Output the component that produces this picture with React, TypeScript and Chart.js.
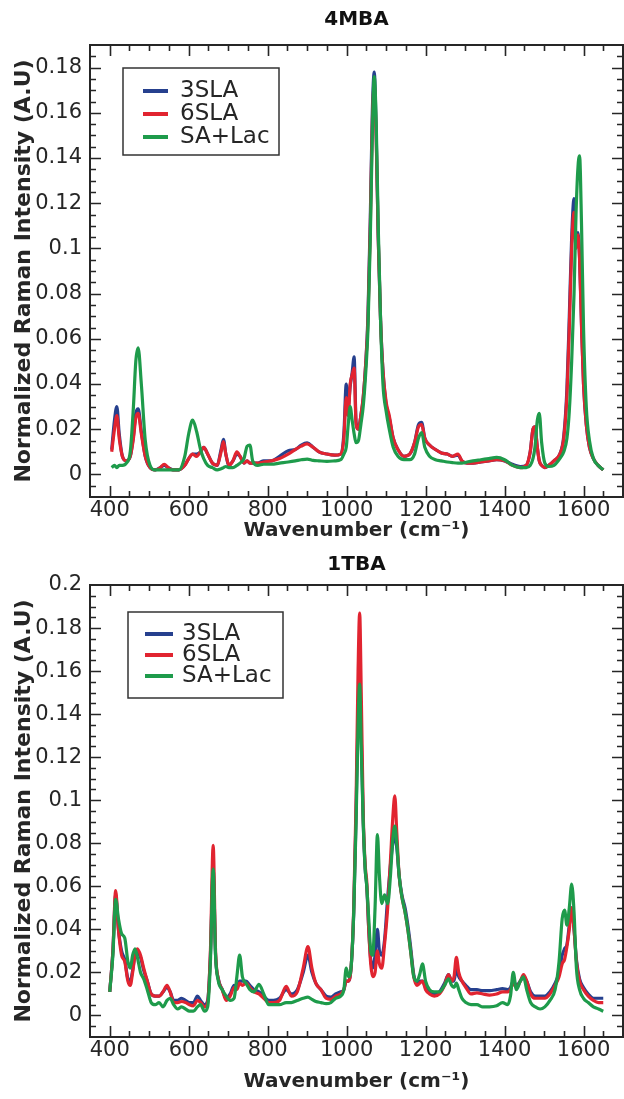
import React, { useEffect, useRef } from "react";
import { Chart, registerables } from "chart.js";

Chart.register(...registerables);

const FONT = "'DejaVu Sans', 'Liberation Sans', sans-serif";
const TEXT_COLOR = "#262626";
const SERIES_LABELS = ["3SLA", "6SLA", "SA+Lac"];
const SERIES_COLORS = ["#26408e", "#e12430", "#1e9b4b"];

const X_TICKS = [400, 600, 800, 1000, 1200, 1400, 1600];
const Y_TICKS_4MBA = [0, 0.02, 0.04, 0.06, 0.08, 0.1, 0.12, 0.14, 0.16, 0.18];
const Y_TICKS_1TBA = [0, 0.02, 0.04, 0.06, 0.08, 0.1, 0.12, 0.14, 0.16, 0.18, 0.2];

// ---------- 4MBA ----------
const WN_4MBA = [
  405, 412, 418, 424, 432, 442, 452, 460, 466, 472,
  480, 490, 502, 515, 528, 538, 548, 560, 575, 590,
  600, 610, 620, 630, 638, 648, 660, 672, 682, 688,
  694, 702, 712, 722, 730, 740, 748, 755, 762, 775,
  790, 810, 830, 852, 870, 885, 900, 915, 930, 950,
  970, 985, 993, 999, 1004, 1009, 1014, 1019, 1024, 1030,
  1036, 1042, 1048, 1054, 1060, 1065, 1070, 1075, 1080, 1086,
  1092, 1100, 1108, 1118, 1130, 1145, 1160, 1172, 1182, 1190,
  1198, 1210, 1225, 1240, 1255, 1268, 1282, 1292, 1305, 1320,
  1340, 1360, 1380, 1400, 1420, 1440, 1455, 1465, 1472, 1477,
  1483, 1488, 1494, 1502, 1512, 1525, 1540, 1550, 1558, 1564,
  1570, 1576, 1581, 1586, 1590, 1595, 1600, 1607, 1615, 1625,
  1637, 1650,
];
const SLA3_4MBA = [
  0.011, 0.024, 0.030, 0.018, 0.008, 0.006, 0.008, 0.017, 0.027, 0.029,
  0.019, 0.008, 0.003, 0.002, 0.003, 0.004, 0.003, 0.002, 0.002, 0.004,
  0.007, 0.009, 0.009, 0.010, 0.012, 0.009, 0.005, 0.004, 0.011, 0.0155,
  0.009, 0.004, 0.006, 0.009, 0.008, 0.005, 0.006, 0.005, 0.005, 0.005,
  0.006, 0.006, 0.008, 0.0105, 0.011, 0.013, 0.014, 0.012, 0.010, 0.009,
  0.0085, 0.009, 0.018, 0.040, 0.030, 0.039, 0.045, 0.052, 0.023, 0.020,
  0.026, 0.034, 0.048, 0.070, 0.114, 0.160, 0.178, 0.150, 0.105, 0.068,
  0.046, 0.031, 0.025, 0.016, 0.011, 0.008, 0.009, 0.014, 0.022, 0.023,
  0.016, 0.013, 0.011, 0.0095, 0.009, 0.008, 0.0085, 0.006, 0.005, 0.005,
  0.0055, 0.006, 0.0065, 0.006, 0.0045, 0.0035, 0.004, 0.010, 0.020, 0.021,
  0.012, 0.006, 0.004, 0.003, 0.004, 0.006, 0.009, 0.017, 0.038, 0.070,
  0.105, 0.122, 0.105, 0.107, 0.096, 0.066, 0.040, 0.022, 0.012, 0.007,
  0.004, 0.002,
];
const SLA6_4MBA = [
  0.010, 0.020, 0.026, 0.016, 0.008, 0.006, 0.008, 0.016, 0.025, 0.027,
  0.018, 0.008, 0.003, 0.002, 0.003, 0.0045, 0.003, 0.002, 0.002, 0.004,
  0.007, 0.009, 0.008, 0.010, 0.012, 0.009, 0.005, 0.004, 0.010, 0.0145,
  0.009, 0.004, 0.006, 0.010, 0.008, 0.005, 0.006, 0.005, 0.005, 0.005,
  0.0055, 0.006, 0.007, 0.009, 0.011, 0.0125, 0.0135, 0.012, 0.010, 0.009,
  0.0085, 0.009, 0.016, 0.034, 0.026, 0.040, 0.044, 0.047, 0.022, 0.020,
  0.026, 0.034, 0.048, 0.068, 0.110, 0.155, 0.172, 0.148, 0.105, 0.068,
  0.046, 0.032, 0.026, 0.016, 0.011, 0.008, 0.009, 0.014, 0.021, 0.022,
  0.016, 0.013, 0.011, 0.0095, 0.009, 0.008, 0.009, 0.006, 0.005, 0.005,
  0.0055, 0.006, 0.0065, 0.006, 0.004, 0.003, 0.004, 0.010, 0.020, 0.021,
  0.012, 0.006, 0.004, 0.003, 0.004, 0.006, 0.009, 0.016, 0.035, 0.065,
  0.100, 0.116, 0.100, 0.106, 0.095, 0.065, 0.040, 0.022, 0.012, 0.007,
  0.004, 0.002,
];
const SALAC_4MBA = [
  0.003, 0.004, 0.003, 0.004, 0.004, 0.005, 0.010, 0.030, 0.050, 0.056,
  0.040, 0.015, 0.004, 0.002, 0.002, 0.002, 0.002, 0.002, 0.002, 0.008,
  0.018, 0.024, 0.019, 0.011, 0.007, 0.004, 0.003, 0.002, 0.0025, 0.003,
  0.0035, 0.003, 0.003, 0.004, 0.005, 0.007, 0.0125, 0.013, 0.006, 0.004,
  0.0045, 0.0045, 0.005, 0.0055, 0.006, 0.0065, 0.0068, 0.0062, 0.006, 0.0058,
  0.006, 0.0065, 0.009, 0.012, 0.022, 0.030, 0.024, 0.018, 0.014, 0.015,
  0.022, 0.030, 0.044, 0.064, 0.105, 0.150, 0.176, 0.155, 0.110, 0.068,
  0.040, 0.028, 0.020, 0.012, 0.008, 0.0065, 0.0065, 0.009, 0.016, 0.0185,
  0.012, 0.008, 0.0065, 0.006, 0.0055, 0.0052, 0.005, 0.005, 0.0055, 0.006,
  0.0065, 0.007, 0.0075, 0.0065, 0.004, 0.003, 0.003, 0.004, 0.007, 0.012,
  0.024, 0.027, 0.014, 0.005, 0.0035, 0.004, 0.007, 0.010, 0.016, 0.028,
  0.050, 0.080, 0.115, 0.136, 0.141, 0.110, 0.065, 0.030, 0.015, 0.007,
  0.004, 0.002,
];

// ---------- 1TBA ----------
const WN_1TBA = [
  400, 408, 415, 422, 430, 438, 446, 452, 458, 464,
  470, 478, 486, 495, 505, 515, 525, 535, 545, 553,
  562, 572, 582, 592, 602, 612, 622, 630, 640, 648,
  655, 662, 668, 675, 685, 695, 705, 715, 722, 729,
  736, 745, 755, 765, 778, 790, 803, 815, 830, 847,
  860, 875, 890, 902, 912, 922, 935, 948, 960, 972,
  985, 993, 999, 1005, 1012, 1018, 1024, 1029, 1033, 1037,
  1042, 1047, 1051, 1056, 1061, 1066, 1072, 1078, 1083, 1089,
  1096, 1104, 1111, 1117, 1122, 1127, 1133, 1140, 1148, 1155,
  1162, 1170, 1178, 1185, 1192, 1200, 1210, 1222, 1235, 1248,
  1258, 1266, 1272, 1278, 1284, 1292, 1302, 1315, 1330, 1345,
  1362, 1380, 1395, 1408, 1415, 1422, 1430, 1440, 1448, 1456,
  1466, 1478, 1490, 1502, 1515, 1528, 1538, 1546, 1552, 1558,
  1564, 1570, 1576, 1582, 1590, 1600, 1612, 1625, 1638, 1650,
];
const SLA3_1TBA = [
  0.011, 0.030, 0.056, 0.040, 0.030, 0.026, 0.017, 0.016, 0.021, 0.028,
  0.029, 0.027, 0.021, 0.016, 0.010, 0.009, 0.009, 0.011, 0.013, 0.011,
  0.007, 0.007, 0.008, 0.007, 0.006, 0.006, 0.009, 0.007, 0.005, 0.007,
  0.028, 0.068, 0.028, 0.017, 0.012, 0.008, 0.010, 0.014, 0.013, 0.016,
  0.016, 0.016, 0.014, 0.012, 0.011, 0.009, 0.007, 0.007, 0.008, 0.012,
  0.010, 0.012, 0.020, 0.028, 0.020, 0.015, 0.012, 0.009, 0.0085, 0.010,
  0.011, 0.012, 0.016, 0.016, 0.024, 0.048, 0.095, 0.140, 0.150, 0.130,
  0.090, 0.068, 0.060, 0.040, 0.026, 0.022, 0.028, 0.040, 0.030, 0.028,
  0.035, 0.055, 0.070, 0.080, 0.083, 0.078, 0.065, 0.056, 0.050, 0.042,
  0.032, 0.019, 0.015, 0.016, 0.016, 0.013, 0.011, 0.010, 0.011, 0.015,
  0.019, 0.016, 0.016, 0.022, 0.018, 0.016, 0.014, 0.012, 0.012, 0.0115,
  0.0115, 0.012, 0.0125, 0.012, 0.013, 0.016, 0.014, 0.016, 0.018, 0.016,
  0.011, 0.009, 0.009, 0.009, 0.011, 0.015, 0.020, 0.028, 0.031, 0.033,
  0.042, 0.050, 0.040, 0.026, 0.017, 0.013, 0.010, 0.008, 0.008, 0.008,
];
const SLA6_1TBA = [
  0.011, 0.030, 0.058, 0.040, 0.028, 0.025, 0.016, 0.014, 0.020, 0.028,
  0.031, 0.028, 0.022, 0.016, 0.010, 0.009, 0.009, 0.011, 0.014, 0.011,
  0.006, 0.006, 0.0065, 0.006, 0.005, 0.0045, 0.007, 0.006, 0.004, 0.006,
  0.030, 0.079, 0.030, 0.017, 0.012, 0.007, 0.009, 0.013, 0.012, 0.015,
  0.014, 0.015, 0.013, 0.011, 0.010, 0.008, 0.006, 0.006, 0.007, 0.0135,
  0.009, 0.011, 0.022, 0.032, 0.022, 0.015, 0.012, 0.008, 0.0075, 0.009,
  0.010, 0.012, 0.016, 0.016, 0.024, 0.050, 0.100, 0.160, 0.187, 0.150,
  0.094, 0.070, 0.062, 0.040, 0.024, 0.018, 0.020, 0.030, 0.024, 0.022,
  0.033, 0.050, 0.072, 0.092, 0.102, 0.085, 0.065, 0.055, 0.048, 0.040,
  0.030, 0.018, 0.014, 0.015, 0.016, 0.012, 0.010, 0.009, 0.010, 0.014,
  0.019, 0.016, 0.018, 0.027, 0.020, 0.016, 0.013, 0.010, 0.0105, 0.010,
  0.0095, 0.010, 0.011, 0.011, 0.012, 0.015, 0.013, 0.016, 0.019, 0.016,
  0.010, 0.008, 0.008, 0.008, 0.010, 0.014, 0.018, 0.024, 0.026, 0.032,
  0.040, 0.050, 0.040, 0.025, 0.016, 0.012, 0.009, 0.007, 0.006, 0.006,
];
const SALAC_1TBA = [
  0.011, 0.028, 0.054, 0.045, 0.038, 0.036, 0.025, 0.022, 0.028, 0.031,
  0.027, 0.020, 0.017, 0.012, 0.006, 0.005, 0.006, 0.004, 0.007, 0.008,
  0.005, 0.003, 0.004, 0.003, 0.002, 0.002, 0.004, 0.005, 0.002, 0.004,
  0.025, 0.068, 0.028, 0.016, 0.012, 0.009, 0.007, 0.008, 0.018, 0.028,
  0.018, 0.015, 0.012, 0.011, 0.0145, 0.010, 0.005, 0.005, 0.005, 0.006,
  0.006, 0.007, 0.008, 0.0085, 0.0075, 0.0065, 0.006, 0.0055, 0.006, 0.008,
  0.009, 0.012, 0.022, 0.018, 0.024, 0.048, 0.090, 0.135, 0.154, 0.125,
  0.090, 0.068, 0.060, 0.045, 0.030, 0.028, 0.050, 0.084, 0.065, 0.052,
  0.056, 0.052, 0.065, 0.082, 0.088, 0.080, 0.065, 0.055, 0.048, 0.040,
  0.030, 0.018, 0.016, 0.019, 0.024, 0.016, 0.012, 0.011, 0.011, 0.014,
  0.017, 0.014, 0.013, 0.015, 0.012, 0.008, 0.006, 0.005, 0.005, 0.004,
  0.004, 0.0045, 0.006, 0.005, 0.009, 0.020, 0.012, 0.016, 0.018, 0.012,
  0.006, 0.004, 0.003, 0.004, 0.007, 0.012, 0.025, 0.045, 0.049, 0.042,
  0.050, 0.061, 0.048, 0.022, 0.012, 0.008, 0.006, 0.004, 0.003, 0.002,
];

// Frame with inward ticks on all four sides
const frameTicksPlugin = {
  id: "frameTicks",
  afterDatasetsDraw(chart: any, _args: any, o: any) {
    const { ctx, chartArea } = chart;
    const { left, right, top, bottom } = chartArea;
    const xs = chart.scales.x;
    const ys = chart.scales.y;
    ctx.save();
    ctx.strokeStyle = TEXT_COLOR;
    ctx.lineWidth = 1.6;
    const nx = Math.round((o.xMinor[1] - o.xMinor[0]) / o.xMinor[2]);
    for (let i = 0; i <= nx; i++) {
      const v = o.xMinor[0] + i * o.xMinor[2];
      const major = Math.abs(v / o.xMajor - Math.round(v / o.xMajor)) < 1e-6;
      const len = major ? 11 : 6;
      const px = Math.round(xs.getPixelForValue(v)) + 0.5;
      ctx.beginPath();
      ctx.moveTo(px, bottom);
      ctx.lineTo(px, bottom - len);
      ctx.moveTo(px, top);
      ctx.lineTo(px, top + len);
      ctx.stroke();
    }
    const ny = Math.round((o.yMinor[1] - o.yMinor[0]) / o.yMinor[2]);
    for (let i = 0; i <= ny; i++) {
      const v = o.yMinor[0] + i * o.yMinor[2];
      const major = Math.abs(v / o.yMajor - Math.round(v / o.yMajor)) < 1e-6;
      const len = major ? 11 : 6;
      const py = Math.round(ys.getPixelForValue(v)) + 0.5;
      ctx.beginPath();
      ctx.moveTo(left, py);
      ctx.lineTo(left + len, py);
      ctx.moveTo(right, py);
      ctx.lineTo(right - len, py);
      ctx.stroke();
    }
    ctx.lineWidth = 2;
    ctx.strokeRect(left, top, right - left, bottom - top);
    ctx.restore();
  },
};

// Boxed legend drawn inside the plot area
const boxLegendPlugin = {
  id: "boxLegend",
  afterDraw(chart: any, _args: any, o: any) {
    const { ctx, chartArea } = chart;
    const x0 = chartArea.left + o.dx;
    const y0 = chartArea.top + o.dy;
    ctx.save();
    ctx.fillStyle = "#ffffff";
    ctx.fillRect(x0, y0, o.w, o.h);
    ctx.strokeStyle = "#333333";
    ctx.lineWidth = 1.5;
    ctx.strokeRect(x0, y0, o.w, o.h);
    ctx.font = `${o.fontSize}px ${FONT}`;
    ctx.textBaseline = "middle";
    chart.data.datasets.forEach((ds: any, i: number) => {
      const yy = y0 + o.rowTop + i * o.rowGap;
      ctx.strokeStyle = ds.borderColor;
      ctx.lineWidth = 4;
      ctx.beginPath();
      ctx.moveTo(x0 + o.lineX0, yy);
      ctx.lineTo(x0 + o.lineX1, yy);
      ctx.stroke();
      ctx.fillStyle = TEXT_COLOR;
      ctx.fillText(ds.label, x0 + o.textX, yy);
    });
    ctx.restore();
  },
};

type SpectrumProps = {
  title: string;
  wn: number[];
  series: number[][];
  yMin: number;
  yMax: number;
  yTicks: number[];
  height: number;
  titlePad: { top: number; bottom: number };
  xAxisHeight: number;
  legend: any;
};

function Spectrum(props: SpectrumProps) {
  const ref = useRef<HTMLCanvasElement | null>(null);
  useEffect(() => {
    if (!ref.current) return;
    const datasets = props.series.map((vals, si) => ({
      label: SERIES_LABELS[si],
      data: props.wn.map((x, i) => ({ x, y: vals[i] })),
      borderColor: SERIES_COLORS[si],
      backgroundColor: SERIES_COLORS[si],
      borderWidth: 3.2,
      pointRadius: 0,
      cubicInterpolationMode: "monotone" as const,
      order: 3 - si,
      fill: false,
    }));
    const chart = new Chart(ref.current, {
      type: "line",
      data: { datasets },
      plugins: [frameTicksPlugin, boxLegendPlugin],
      options: {
        responsive: false,
        animation: false,
        layout: { padding: { left: 0, right: 1, top: 0, bottom: 0 } },
        scales: {
          x: {
            type: "linear",
            min: 350,
            max: 1700,
            grid: { display: false, drawTicks: false, tickLength: 0 },
            border: { display: false },
            afterBuildTicks: (s: any) => {
              s.ticks = X_TICKS.map((v) => ({ value: v }));
            },
            afterFit: (s: any) => {
              s.height = props.xAxisHeight;
            },
            ticks: {
              autoSkip: false,
              maxRotation: 0,
              padding: 1,
              color: TEXT_COLOR,
              font: { family: FONT, size: 21 },
              callback: (v: any) => String(v),
            },
            title: {
              display: true,
              text: "Wavenumber (cm⁻¹)",
              color: TEXT_COLOR,
              font: { family: FONT, size: 20, weight: "bold" },
              padding: { top: 0, bottom: 5 },
            },
          },
          y: {
            type: "linear",
            min: props.yMin,
            max: props.yMax,
            grid: { display: false, drawTicks: false, tickLength: 0 },
            border: { display: false },
            afterBuildTicks: (s: any) => {
              s.ticks = props.yTicks.map((v) => ({ value: v }));
            },
            afterFit: (s: any) => {
              s.width = 90;
            },
            ticks: {
              autoSkip: false,
              padding: 8,
              color: TEXT_COLOR,
              font: { family: FONT, size: 21 },
              callback: (v: any) => String(parseFloat(Number(v).toFixed(3))),
            },
            title: {
              display: true,
              text: "Normalized Raman Intensity (A.U)",
              color: TEXT_COLOR,
              font: { family: FONT, size: 22, weight: "bold" },
              padding: { top: 11, bottom: 0 },
            },
          },
        },
        plugins: {
          legend: { display: false },
          tooltip: { enabled: false },
          title: {
            display: true,
            text: props.title,
            fullSize: false,
            color: "#111111",
            font: { family: FONT, size: 20, weight: "bold" },
            padding: props.titlePad,
          },
          frameTicks: {
            xMinor: [400, 1650, 50],
            xMajor: 200,
            yMinor: [-0.005, props.yMax - 0.005, 0.005],
            yMajor: 0.02,
          },
          boxLegend: props.legend,
        } as any,
      },
    });
    return () => chart.destroy();
  }, []);
  return (
    <canvas
      ref={ref}
      width={624}
      height={props.height}
      style={{ display: "block", width: 624, height: props.height }}
    />
  );
}

export default function App() {
  return (
    <div style={{ position: "absolute", left: 0, top: 0, width: 624, height: 1099, background: "#fff" }}>
      <Spectrum
        title="4MBA"
        wn={WN_4MBA}
        series={[SLA3_4MBA, SLA6_4MBA, SALAC_4MBA]}
        yMin={-0.01}
        yMax={0.19}
        yTicks={Y_TICKS_4MBA}
        height={548}
        titlePad={{ top: 8, bottom: 13 }}
        xAxisHeight={51}
        legend={{ dx: 33, dy: 23, w: 156, h: 87, rowTop: 23, rowGap: 23, lineX0: 20, lineX1: 45, textX: 57, fontSize: 23 }}
      />
      <Spectrum
        title="1TBA"
        wn={WN_1TBA}
        series={[SLA3_1TBA, SLA6_1TBA, SALAC_1TBA]}
        yMin={-0.01}
        yMax={0.2}
        yTicks={Y_TICKS_1TBA}
        height={551}
        titlePad={{ top: 5, bottom: 8 }}
        xAxisHeight={62}
        legend={{ dx: 38, dy: 27, w: 155, h: 86, rowTop: 22, rowGap: 21, lineX0: 17, lineX1: 45, textX: 54, fontSize: 23 }}
      />
    </div>
  );
}
